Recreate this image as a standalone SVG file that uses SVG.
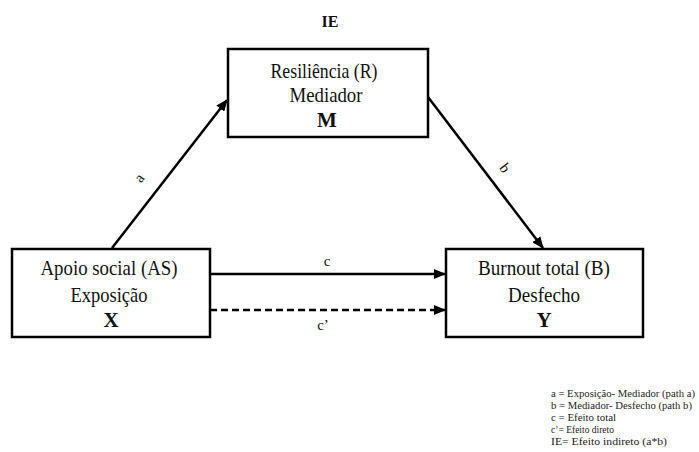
<svg xmlns="http://www.w3.org/2000/svg" width="699" height="452" viewBox="0 0 699 452">
<style>
.box{fill:#fff;stroke:#000;stroke-width:2.5}
.t{font-family:"Liberation Serif","Times New Roman",serif;fill:#111;text-anchor:middle}
.n{font-size:22px}
.b{font-size:21px;font-weight:bold}
.lbl{font-size:15px}
.leg{font-family:"Liberation Serif","Times New Roman",serif;font-size:10.5px;fill:#222}
.ln{stroke:#000;stroke-width:2.5;fill:none}
</style>
<defs>
<marker id="ah" markerWidth="12" markerHeight="10" refX="11" refY="5" orient="auto" markerUnits="userSpaceOnUse">
<path d="M0,0 L12,5 L0,10 Z" fill="#000"/>
</marker>
</defs>
<rect width="699" height="452" fill="#fff"/>
<g id="connectors">
<line class="ln" x1="112" y1="248" x2="227" y2="100" marker-end="url(#ah)"/>
<line class="ln" x1="428" y1="97" x2="543" y2="248" marker-end="url(#ah)"/>
<line class="ln" x1="210" y1="274" x2="445" y2="274" marker-end="url(#ah)"/>
<line class="ln" x1="210" y1="310" x2="445" y2="310" stroke-dasharray="7 4" marker-end="url(#ah)"/>
<text class="t lbl" transform="translate(143,181) rotate(-52)">a</text>
<text class="t lbl" transform="translate(501,171) rotate(53)">b</text>
<text class="t lbl" x="327" y="266">c</text>
<text class="t lbl" x="323" y="330">c’</text>
</g>
<text class="t" x="330" y="27" style="font-size:16px;font-weight:bold">IE</text>
<g id="node-M">
<rect class="box" x="228" y="49" width="200" height="88"/>
<text class="t n" x="324" y="78" textLength="107" lengthAdjust="spacingAndGlyphs">Resiliência (R)</text>
<text class="t n" x="326" y="102" textLength="73" lengthAdjust="spacingAndGlyphs">Mediador</text>
<text class="t b" x="327" y="127">M</text>
</g>
<g id="node-X">
<rect class="box" x="12" y="249" width="198" height="88"/>
<text class="t n" x="109" y="275" textLength="137" lengthAdjust="spacingAndGlyphs">Apoio social (AS)</text>
<text class="t n" x="109" y="302" textLength="77" lengthAdjust="spacingAndGlyphs">Exposição</text>
<text class="t b" x="111" y="327">X</text>
</g>
<g id="node-Y">
<rect class="box" x="446" y="249" width="197" height="88"/>
<text class="t n" x="544" y="275" textLength="132" lengthAdjust="spacingAndGlyphs">Burnout total (B)</text>
<text class="t n" x="544" y="302" textLength="72" lengthAdjust="spacingAndGlyphs">Desfecho</text>
<text class="t b" x="544" y="327">Y</text>
</g>
<g id="legend">
<text class="leg" x="551" y="397" textLength="144" lengthAdjust="spacingAndGlyphs">a = Exposição- Mediador (path a)</text>
<text class="leg" x="551" y="409" textLength="141" lengthAdjust="spacingAndGlyphs">b = Mediador- Desfecho (path b)</text>
<text class="leg" x="551" y="421" textLength="65" lengthAdjust="spacingAndGlyphs">c = Efeito total</text>
<text class="leg" x="551" y="433" textLength="63" lengthAdjust="spacingAndGlyphs">c’= Efeito direto</text>
<text class="leg" x="551" y="445" textLength="116" lengthAdjust="spacingAndGlyphs">IE= Efeito indireto (a*b)</text>
</g>
</svg>
